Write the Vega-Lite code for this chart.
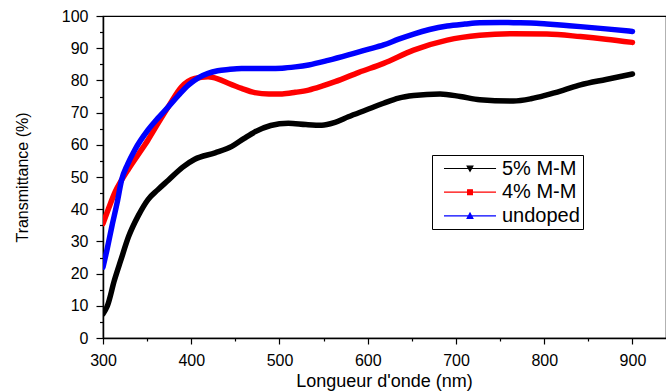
{
  "$schema": "https://vega.github.io/schema/vega-lite/v6.json",
  "autosize": "none",
  "width": 563,
  "height": 322,
  "padding": {"left": 103, "top": 16, "right": 0, "bottom": 54},
  "background": "white",
  "config": {
    "view": {"stroke": "black", "strokeWidth": 1.2},
    "font": "Liberation Sans",
    "axis": {
      "domainColor": "black", "domainWidth": 1.5,
      "tickColor": "black", "tickWidth": 1.2,
      "labelColor": "black", "titleColor": "black",
      "labelFont": "Liberation Sans", "titleFont": "Liberation Sans",
      "labelFontSize": 16, "titleFontWeight": "normal",
      "grid": false
    }
  },
  "data": {"values": [
    {"s":"5% M-M","x":300,"y":7.5},{"s":"5% M-M","x":305,"y":10},{"s":"5% M-M","x":313,"y":18},{"s":"5% M-M","x":320,"y":24},{"s":"5% M-M","x":329,"y":31.5},{"s":"5% M-M","x":340,"y":38},{"s":"5% M-M","x":351,"y":43},{"s":"5% M-M","x":362,"y":46},{"s":"5% M-M","x":374,"y":49},{"s":"5% M-M","x":390,"y":53},{"s":"5% M-M","x":404,"y":55.5},{"s":"5% M-M","x":427,"y":57.5},{"s":"5% M-M","x":446,"y":59.5},{"s":"5% M-M","x":460,"y":62},{"s":"5% M-M","x":472,"y":64},{"s":"5% M-M","x":490,"y":66},{"s":"5% M-M","x":510,"y":66.7},{"s":"5% M-M","x":530,"y":66.3},{"s":"5% M-M","x":548,"y":66.1},{"s":"5% M-M","x":563,"y":67},{"s":"5% M-M","x":578,"y":68.7},{"s":"5% M-M","x":598,"y":70.8},{"s":"5% M-M","x":618,"y":72.9},{"s":"5% M-M","x":635,"y":74.5},{"s":"5% M-M","x":652,"y":75.3},{"s":"5% M-M","x":682,"y":75.8},{"s":"5% M-M","x":705,"y":75},{"s":"5% M-M","x":727,"y":74},{"s":"5% M-M","x":765,"y":73.6},{"s":"5% M-M","x":785,"y":74.3},{"s":"5% M-M","x":803,"y":75.5},{"s":"5% M-M","x":822,"y":77},{"s":"5% M-M","x":841,"y":78.6},{"s":"5% M-M","x":870,"y":80.3},{"s":"5% M-M","x":900,"y":82},
    {"s":"4% M-M","x":300,"y":35.5},{"s":"4% M-M","x":306,"y":40},{"s":"4% M-M","x":314,"y":45.5},{"s":"4% M-M","x":321,"y":49},{"s":"4% M-M","x":329,"y":52.5},{"s":"4% M-M","x":340,"y":57},{"s":"4% M-M","x":351,"y":61.5},{"s":"4% M-M","x":362,"y":66.5},{"s":"4% M-M","x":374,"y":71.8},{"s":"4% M-M","x":389,"y":78},{"s":"4% M-M","x":404,"y":80.6},{"s":"4% M-M","x":419,"y":81.1},{"s":"4% M-M","x":430,"y":80.5},{"s":"4% M-M","x":442,"y":79.1},{"s":"4% M-M","x":457,"y":77.5},{"s":"4% M-M","x":472,"y":76.2},{"s":"4% M-M","x":488,"y":75.8},{"s":"4% M-M","x":503,"y":75.8},{"s":"4% M-M","x":518,"y":76.3},{"s":"4% M-M","x":533,"y":77},{"s":"4% M-M","x":548,"y":78.2},{"s":"4% M-M","x":563,"y":79.6},{"s":"4% M-M","x":590,"y":82.5},{"s":"4% M-M","x":618,"y":85.3},{"s":"4% M-M","x":652,"y":89.4},{"s":"4% M-M","x":690,"y":92.5},{"s":"4% M-M","x":727,"y":94},{"s":"4% M-M","x":765,"y":94.5},{"s":"4% M-M","x":803,"y":94.4},{"s":"4% M-M","x":841,"y":93.6},{"s":"4% M-M","x":870,"y":92.8},{"s":"4% M-M","x":900,"y":91.8},
    {"s":"undoped","x":300,"y":22},{"s":"undoped","x":305,"y":28},{"s":"undoped","x":310,"y":34.6},{"s":"undoped","x":316,"y":42},{"s":"undoped","x":321,"y":49},{"s":"undoped","x":328,"y":54},{"s":"undoped","x":336,"y":58.4},{"s":"undoped","x":351,"y":64.6},{"s":"undoped","x":362,"y":68.2},{"s":"undoped","x":374,"y":71.8},{"s":"undoped","x":386,"y":75.5},{"s":"undoped","x":397,"y":78.6},{"s":"undoped","x":408,"y":80.8},{"s":"undoped","x":419,"y":82.2},{"s":"undoped","x":430,"y":83},{"s":"undoped","x":442,"y":83.4},{"s":"undoped","x":457,"y":83.7},{"s":"undoped","x":472,"y":83.7},{"s":"undoped","x":488,"y":83.7},{"s":"undoped","x":503,"y":83.8},{"s":"undoped","x":518,"y":84.2},{"s":"undoped","x":533,"y":84.8},{"s":"undoped","x":555,"y":86.2},{"s":"undoped","x":578,"y":87.9},{"s":"undoped","x":598,"y":89.5},{"s":"undoped","x":618,"y":91},{"s":"undoped","x":635,"y":92.8},{"s":"undoped","x":652,"y":94.4},{"s":"undoped","x":670,"y":95.8},{"s":"undoped","x":690,"y":96.9},{"s":"undoped","x":710,"y":97.5},{"s":"undoped","x":727,"y":97.9},{"s":"undoped","x":750,"y":98},{"s":"undoped","x":765,"y":97.9},{"s":"undoped","x":785,"y":97.8},{"s":"undoped","x":803,"y":97.5},{"s":"undoped","x":822,"y":97.1},{"s":"undoped","x":841,"y":96.7},{"s":"undoped","x":870,"y":96},{"s":"undoped","x":900,"y":95.2}
  ]},
  "mark": {"type": "line", "interpolate": "monotone", "strokeWidth": 5.5, "strokeCap": "round", "clip": true},
  "encoding": {
    "x": {
      "field": "x", "type": "quantitative",
      "scale": {"domain": [300, 938], "nice": false, "zero": false},
      "axis": {
        "title": "Longueur d'onde (nm)", "titleFontSize": 18,
        "values": [300,350,400,450,500,550,600,650,700,750,800,850,900],
        "labelExpr": "datum.value % 100 === 0 ? datum.label : ''",
        "tickSize": {"condition": {"test": "datum.value % 100 === 0", "value": 6}, "value": 3},
        "labelPadding": 8, "labelFlush": false,
        "titleX": 281, "titleY": 43, "titleBaseline": "middle", "titleAlign": "center"
      }
    },
    "y": {
      "field": "y", "type": "quantitative",
      "scale": {"domain": [0, 100], "nice": false},
      "axis": {
        "title": "Transmittance (%)", "titleFontSize": 16,
        "values": [0,5,10,15,20,25,30,35,40,45,50,55,60,65,70,75,80,85,90,95,100],
        "labelExpr": "datum.value % 10 === 0 ? datum.label : ''",
        "tickSize": {"condition": {"test": "datum.value % 10 === 0", "value": 7}, "value": 3.5},
        "labelPadding": 8, "labelFlush": false,
        "titleX": -81, "titleY": 161, "titleAngle": -90, "titleBaseline": "middle", "titleAlign": "center"
      }
    },
    "color": {
      "field": "s", "type": "nominal",
      "scale": {"domain": ["5% M-M", "4% M-M", "undoped"], "range": ["#000000", "#ff0000", "#0000ff"]},
      "legend": {
        "title": null, "orient": "none", "legendX": 329, "legendY": 139,
        "strokeColor": "black", "fillColor": "white", "padding": 3,
        "labelFont": "Liberation Sans", "labelFontSize": 20, "labelColor": "black",
        "symbolSize": 361, "symbolStrokeWidth": 1.2, "labelOffset": 46, "rowPadding": 2.7,
        "encode": {
          "symbols": {
            "update": {
              "shape": {"signal": "datum.value === '5% M-M' ? 'M-0.16,0H5.32M2.28,-0.25L2.88,-0.25L2.58,0.3Z' : datum.value === '4% M-M' ? 'M-0.16,0H5.32M2.33,-0.25H2.83V0.25H2.33Z' : 'M-0.16,0H5.32M2.58,-0.3L2.28,0.25L2.88,0.25Z'"},
              "fill": {"scale": "color", "field": "value"},
              "stroke": {"scale": "color", "field": "value"},
              "strokeWidth": {"value": 1.2}
            }
          }
        }
      }
    }
  }
}
